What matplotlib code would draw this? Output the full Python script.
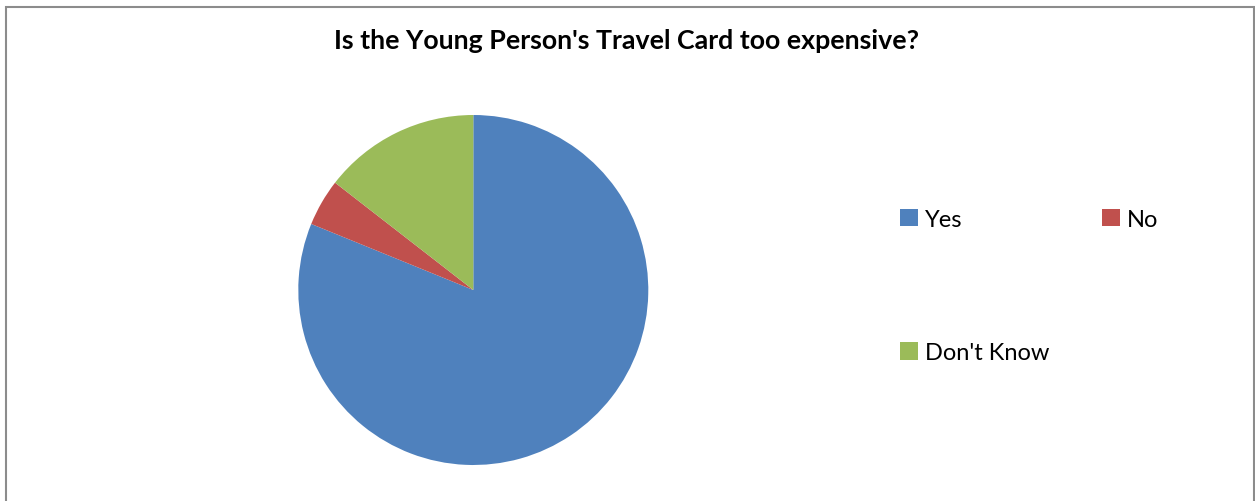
#!/usr/bin/env python3
"""
Pie chart of survey answers on the Young Person's Travel Card price.
"""
import matplotlib.pyplot as plt
import matplotlib.patches as mpatches

LABELS = ["Yes", "No", "Don't Know"]
COUNTS = [56, 3, 10]
COLORS = ['#4f81bd', '#c0504d', '#9bbb59']

TITLE = "Is the Young Person's Travel Card too expensive?"

W, H = 1255, 502


def main():
    plt.rcParams['font.family'] = ['Lato', 'DejaVu Sans']
    fig = plt.figure(figsize=(W / 100, H / 100), dpi=100)

    # chart area outline, bottom edge runs off the canvas
    border = mpatches.Rectangle((5.5 / W, -0.1), (1253.5 - 5.5) / W,
                                1.1 - 7.5 / H, transform=fig.transFigure,
                                fill=False, edgecolor='#8c8c8c', linewidth=1.5)
    fig.patches.append(border)

    fig.text(626 / W, 1 - 49.3 / H, TITLE, ha='center', va='baseline',
             fontsize=19.3, fontweight='bold', color='black')

    r = 175
    cx, cy = 473.3, 291
    ax = fig.add_axes([(cx - r) / W, (H - cy - r) / H, 2 * r / W, 2 * r / H])
    wedges, _ = ax.pie(COUNTS, colors=COLORS, startangle=90, counterclock=False,
                       radius=1, wedgeprops=dict(linewidth=0))
    ax.set_xlim(-1, 1)
    ax.set_ylim(-1, 1)
    ax.set_aspect('equal')
    ax.axis('off')

    # column-major fill: Yes / Don't Know in the first column, No in the second
    order = [0, 2, 1]
    fig.legend([wedges[i] for i in order], [LABELS[i] for i in order],
               ncol=2, loc='upper left', bbox_to_anchor=(900 / W, 1 - 210 / H),
               frameon=False, fontsize=17, handlelength=0.75, handleheight=0.75,
               handletextpad=0.3, columnspacing=2.25, labelspacing=4.75,
               borderaxespad=0, borderpad=0)

    fig.savefig('out.png', dpi=100, facecolor='white')
    plt.close(fig)


if __name__ == '__main__':
    main()
